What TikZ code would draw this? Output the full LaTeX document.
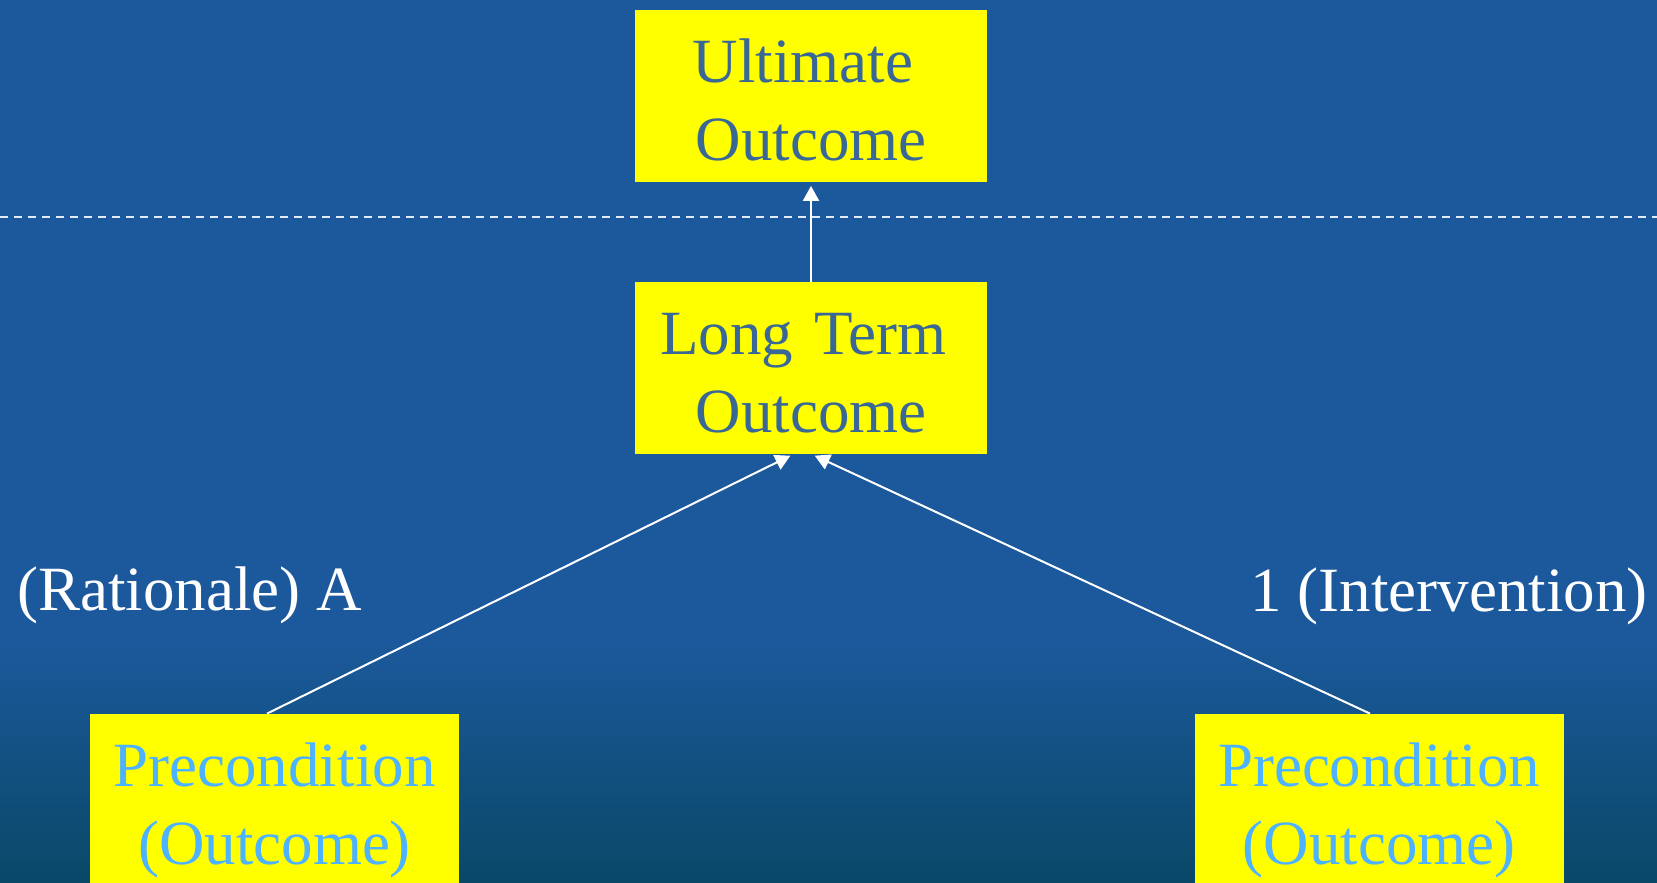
\documentclass[tikz,border=0pt]{standalone}
\usepackage{fontspec}
\setmainfont{Liberation Serif}
\usetikzlibrary{arrows.meta}
\definecolor{bgtop}{RGB}{27,89,156}
\definecolor{bgbot}{RGB}{10,72,104}
\definecolor{darktxt}{RGB}{58,104,150}
\definecolor{lighttxt}{RGB}{77,178,255}
\definecolor{boxyellow}{RGB}{255,255,0}
\definecolor{dashcol}{RGB}{225,235,250}
\tikzset{
  box/.style={rectangle, fill=boxyellow, inner sep=0pt,
    minimum width=176pt, minimum height=86pt, text width=170pt, align=center,
    text height=0pt, text depth=13.5pt,
    font=\fontsize{31.5pt}{38.75pt}\selectfont},
  darkbox/.style={box, text=darktxt},
  lightbox/.style={box, text=lighttxt, minimum width=184.5pt, text width=180pt},
  freelabel/.style={text=white, inner sep=0pt, font=\fontsize{31.5pt}{38.75pt}\selectfont},
  conn/.style={draw=white, line width=1pt, -{Triangle[width=8pt,length=7.5pt]}, shorten >=1.5pt},
  divider/.style={draw=dashcol, line width=1pt, dash pattern=on 4pt off 3pt}
}
\begin{document}
\begin{tikzpicture}[x=0.5pt, y=-0.5pt]
  \useasboundingbox (0,0) rectangle (1657,882);
  \clip (0,0) rectangle (1657,882);
  % background
  \fill[bgtop] (0,0) rectangle (1657,882);
  \shade[top color=bgtop, bottom color=bgbot] (0,640) rectangle (1657,882);
  % divider
  \coordinate (dl) at (0,217);
  \coordinate (dr) at (1657,217);
  \path[divider] (dl) -- (dr);
  % boxes
  \node[darkbox] (ult) at (811,96.5) {Ultimate\kern0.25em\\Outcome};
  \node[darkbox] (lt) at (811,368) {Long Term\kern0.25em\\Outcome};
  \node[lightbox] (pl) at (274.5,800) {Precondition\\(Outcome)};
  \node[lightbox] (pr) at (1379,800) {Precondition\\(Outcome)};
  % labels
  \node[freelabel, anchor=base west] (rat) at (17,610) {(Rationale) A};
  \node[freelabel, anchor=base east] (int) at (1648,611) {1 (Intervention)};
  % connectors
  \path[conn] (lt.north) -- (ult.south);
  \path[conn] ([xshift=-3.75pt]pl.north) -- ([xshift=-9pt]lt.south);
  \path[conn] ([xshift=-4.5pt]pr.north) -- ([xshift=0.5pt]lt.south);
\end{tikzpicture}
\end{document}
